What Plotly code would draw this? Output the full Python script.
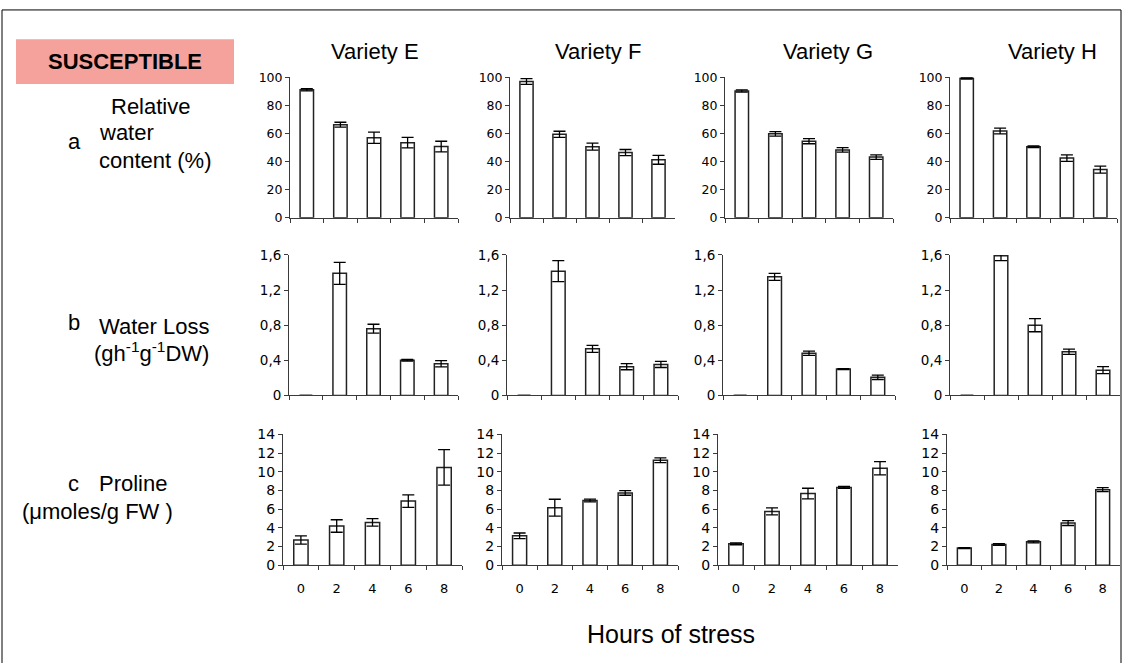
import plotly.graph_objects as go

W, H = 1123, 663

hours = ["0", "2", "4", "6", "8"]
varieties = ["Variety E", "Variety F", "Variety G", "Variety H"]

# a: relative water content (%)
rwc_E = [91.2, 66.3, 57.0, 53.5, 50.7]
rwc_E_err = [0.8, 1.7, 4.0, 3.7, 3.8]
rwc_F = [97.0, 59.4, 50.6, 46.4, 41.3]
rwc_F_err = [2.0, 2.2, 2.5, 2.2, 3.2]
rwc_G = [90.3, 59.8, 54.5, 48.3, 43.2]
rwc_G_err = [0.8, 1.6, 1.8, 1.6, 1.6]
rwc_H = [99.3, 61.8, 50.5, 42.5, 34.3]
rwc_H_err = [0.5, 2.0, 0.6, 2.3, 2.5]

# b: water loss (g h-1 g-1 DW)
wl_E = [0.0, 1.39, 0.76, 0.40, 0.36]
wl_E_err = [0.0, 0.125, 0.05, 0.01, 0.035]
wl_F = [0.0, 1.415, 0.53, 0.327, 0.353]
wl_F_err = [0.0, 0.12, 0.04, 0.035, 0.035]
wl_G = [0.0, 1.35, 0.48, 0.30, 0.206]
wl_G_err = [0.0, 0.04, 0.025, 0.005, 0.025]
wl_H = [0.0, 1.59, 0.80, 0.497, 0.287]
wl_H_err = [0.0, 0.055, 0.075, 0.03, 0.04]

# c: proline (umoles/g FW)
pro_E = [2.7, 4.2, 4.58, 6.87, 10.47]
pro_E_err = [0.45, 0.67, 0.4, 0.67, 1.9]
pro_F = [3.15, 6.16, 6.93, 7.74, 11.24]
pro_F_err = [0.3, 0.9, 0.15, 0.25, 0.25]
pro_G = [2.29, 5.76, 7.67, 8.33, 10.38]
pro_G_err = [0.1, 0.38, 0.57, 0.1, 0.7]
pro_H = [1.84, 2.22, 2.5, 4.51, 8.09]
pro_H_err = [0.05, 0.1, 0.1, 0.26, 0.22]

rows = [
    dict(vals=[rwc_E, rwc_F, rwc_G, rwc_H], errs=[rwc_E_err, rwc_F_err, rwc_G_err, rwc_H_err],
         ticks=[0, 20, 40, 60, 80, 100], text=["0", "20", "40", "60", "80", "100"],
         rng=[0, 100], font=12.5),
    dict(vals=[wl_E, wl_F, wl_G, wl_H], errs=[wl_E_err, wl_F_err, wl_G_err, wl_H_err],
         ticks=[0, 0.4, 0.8, 1.2, 1.6], text=["0", "0,4", "0,8", "1,2", "1,6"],
         rng=[0, 1.6], font=13.5),
    dict(vals=[pro_E, pro_F, pro_G, pro_H], errs=[pro_E_err, pro_F_err, pro_G_err, pro_H_err],
         ticks=[0, 2, 4, 6, 8, 10, 12, 14], text=["0", "2", "4", "6", "8", "10", "12", "14"],
         rng=[0, 14], font=14),
]

# panel boxes in pixels: (left, right) per column for each row, (top, bottom) per row
col_px = [
    [(290, 458), (510, 675), (725, 893), (950, 1117)],
    [(289, 458), (507, 678), (723, 895), (950, 1120)],
    [(283, 462), (502, 678), (718, 898), (947, 1120)],
]
row_px = [(71, 215), (253, 397), (437, 571)]


def px_x(x):
    return x / W


def px_y(y):
    return 1 - y / H


fig = go.Figure()
layout = {}
axis_color = "#3a3a3a"

n = 0
for r, row in enumerate(rows):
    tick_font = dict(family="DejaVu Sans", size=row["font"], color="black")
    for c in range(4):
        n += 1
        sfx = "" if n == 1 else str(n)
        fig.add_trace(go.Bar(
            x=hours, y=row["vals"][c],
            xaxis="x" + sfx, yaxis="y" + sfx,
            width=0.4,
            marker=dict(color="white", line=dict(color="#222222", width=1.5)),
            error_y=dict(type="data", array=row["errs"][c], visible=True,
                         color="black", thickness=1.3, width=6),
            showlegend=False, hoverinfo="skip",
        ))
        x0, x1 = col_px[r][c]
        y0, y1 = row_px[r]
        layout["xaxis" + sfx] = dict(
            domain=[px_x(x0), px_x(x1)], anchor="y" + sfx,
            type="category", range=[-0.5, 4.5],
            showline=True, linecolor=axis_color, linewidth=1,
            ticks="outside", tickson="boundaries", ticklen=4, tickcolor=axis_color,
            showticklabels=(r == 2),
            tickfont=dict(family="DejaVu Sans", size=13, color="black"),
            ticklabelstandoff=11,
            showgrid=False, zeroline=False, fixedrange=True,
        )
        layout["yaxis" + sfx] = dict(
            domain=[px_y(y1), px_y(y0)], anchor="x" + sfx,
            range=row["rng"], tickvals=row["ticks"], ticktext=row["text"],
            showline=True, linecolor=axis_color, linewidth=1,
            ticks="outside", ticklen=4, tickcolor=axis_color,
            tickfont=tick_font, showgrid=False, zeroline=False, fixedrange=True,
        )

annotations = []


def label(text, x, y, anchor="left", size=22, bold=False):
    annotations.append(dict(
        text=("<b>%s</b>" % text) if bold else text,
        x=px_x(x), y=px_y(y), xref="paper", yref="paper",
        xanchor=anchor, yanchor="middle", showarrow=False,
        font=dict(family="Liberation Sans, Arial", size=size, color="black"),
    ))


title_x = [375, 598, 828, 1052]
for name, tx in zip(varieties, title_x):
    label(name, tx, 45, anchor="center")

label("a", 66, 137)
label("Relative", 109, 101)
label("water", 97, 128)
label("content (%)", 97, 156)

label("b", 66, 322)
label("Water Loss", 97, 326)
label("(gh<sup>-1</sup>g<sup>-1</sup>DW)", 92, 353)

label("c", 66, 487)
label("Proline", 97, 487)
label("(\u03bcmoles/g FW )", 20, 516)

label("Hours of stress", 671, 641, anchor="center", size=25)
label("SUSCEPTIBLE", 125, 55, anchor="center", size=22, bold=True)

shapes = [
    dict(type="rect", xref="paper", yref="paper",
         x0=px_x(16), x1=px_x(234), y0=px_y(78), y1=px_y(32),
         fillcolor="#F5A29C", line=dict(width=0), layer="below"),
    dict(type="rect", xref="paper", yref="paper",
         x0=px_x(2), x1=px_x(1121), y0=-0.02, y1=px_y(2),
         line=dict(color="black", width=1), fillcolor="rgba(0,0,0,0)"),
]

fig.update_layout(
    width=W, height=H,
    margin=dict(l=0, r=0, t=0, b=0),
    paper_bgcolor="white", plot_bgcolor="white",
    bargap=0.6,
    annotations=annotations, shapes=shapes,
    **layout,
)

fig.write_html("out.html", config={"displayModeBar": False})
